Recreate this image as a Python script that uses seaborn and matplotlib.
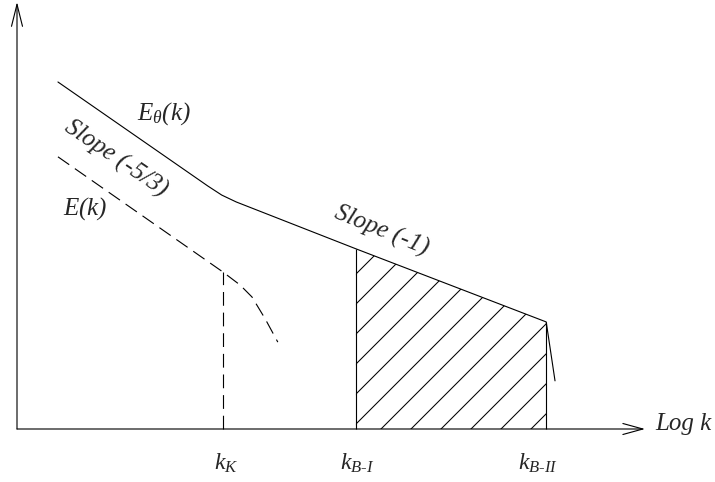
import numpy as np
import pandas as pd
import seaborn as sns
import matplotlib.pyplot as plt

# Espectro E_theta(k) (esquema log-log, unidades arbitrarias)
log_k_theta = [0.65, 3.03, 3.25, 3.48, 5.38, 8.40, 8.54]
e_theta = [8.07, 5.65, 5.44, 5.28, 4.19, 2.49, 1.12]

# Espectro E(k) (tracejado)
log_k_vel = [0.65, 3.27, 3.54, 3.73, 3.94, 4.14]
e_vel = [6.33, 3.65, 3.35, 3.07, 2.56, 2.02]

# Numeros de onda caracteristicos
k_K = 3.27
k_BI = 5.38
k_BII = 8.40

sns.set_theme(style='white')
plt.rcParams['font.family'] = ['Liberation Serif', 'DejaVu Serif']
plt.rcParams['mathtext.fontset'] = 'custom'
plt.rcParams['mathtext.it'] = 'Liberation Serif:italic'
plt.rcParams['mathtext.rm'] = 'Liberation Serif:italic'
plt.rcParams['hatch.linewidth'] = 0.85
plt.rcParams['lines.scale_dashes'] = False

fig = plt.figure(figsize=(715 / 90, 483 / 90), dpi=90)
ax = fig.add_axes([0, 0, 1, 1])
ax.set_xlim(-17 / 63, (715 - 17) / 63)
ax.set_ylim((430 - 483) / 43, 430 / 43)
ax.axis('off')

lw = 0.9
tracejado = (0, (11, 5.5))

# Curvas
df_theta = pd.DataFrame({'log_k': log_k_theta, 'E': e_theta})
sns.lineplot(data=df_theta, x='log_k', y='E', ax=ax, color='black', lw=lw,
             sort=False, estimator=None)

df_vel = pd.DataFrame({'log_k': log_k_vel, 'E': e_vel})
sns.lineplot(data=df_vel, x='log_k', y='E', ax=ax, color='black', lw=lw,
             sort=False, estimator=None, linestyle=tracejado)

# Linha vertical tracejada em k_K
ax.plot([k_K, k_K], [0, np.interp(k_K, log_k_vel, e_vel)], color='black',
        lw=lw, linestyle=tracejado)

# Regiao hachurada entre k_B-I e k_B-II
xs = np.linspace(k_BI, k_BII, 200)
ys = np.interp(xs, log_k_theta, e_theta)
ax.fill_between(xs, 0, ys, facecolor='none', edgecolor='black', hatch='/',
                linewidth=0)
ax.vlines([k_BI, k_BII], 0,
          [np.interp(k_BI, log_k_theta, e_theta), np.interp(k_BII, log_k_theta, e_theta)],
          color='black', lw=lw)

# Eixos com setas
ax.annotate('', xy=(0, 427 / 43), xytext=(0, 0),
            arrowprops=dict(arrowstyle='->,head_length=1.76,head_width=0.44',
                            lw=0.9, color='black', shrinkA=0, shrinkB=0,
                            mutation_scale=10))
ax.annotate('', xy=(628 / 63, 0), xytext=(0, 0),
            arrowprops=dict(arrowstyle='->,head_length=1.6,head_width=0.44',
                            lw=0.9, color='black', shrinkA=0, shrinkB=0,
                            mutation_scale=10))

# Textos
ax.text(2.33, 7.37, r'$E_\theta(k)$', fontsize=20, ha='center', va='center')
ax.text(1.57, 6.30, 'Slope (-5/3)', fontsize=20, style='italic', rotation=-34,
        rotation_mode='anchor', ha='center', va='center')
ax.text(1.08, 5.14, r'$E(k)$', fontsize=20, ha='center', va='center')
ax.text(5.79, 4.63, 'Slope (-1)', fontsize=20, style='italic', rotation=-22,
        rotation_mode='anchor', ha='center', va='center')
ax.text(10.13, 0.0, 'Log k', fontsize=20, style='italic', ha='left', va='baseline')

ax.text(3.32, -0.93, r'$k_K$', fontsize=19, ha='center', va='baseline')
ax.text(5.40, -0.93, r'$k_{B\text{-}I}$', fontsize=19, ha='center', va='baseline')
ax.text(8.27, -0.93, r'$k_{B\text{-}II}$', fontsize=19, ha='center', va='baseline')

fig.savefig('out.png', dpi=90)
